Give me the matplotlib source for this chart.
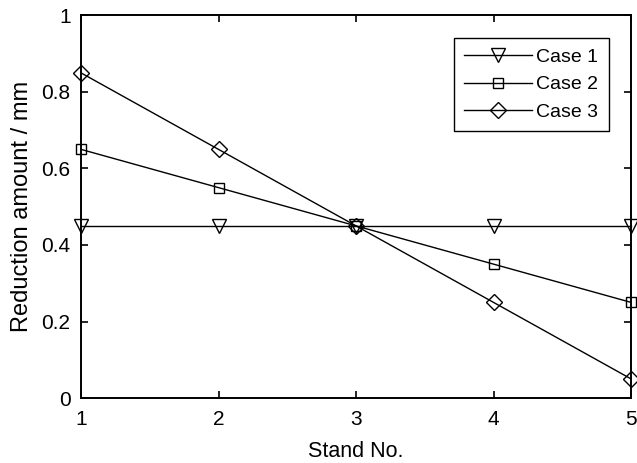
import matplotlib.pyplot as plt

plt.rcParams['font.family'] = ['Liberation Sans', 'DejaVu Sans']

# Reduction amount per stand for each case
stands = [1, 2, 3, 4, 5]
case1 = [0.45, 0.45, 0.45, 0.45, 0.45]
case2 = [0.65, 0.55, 0.45, 0.35, 0.25]
case3 = [0.85, 0.65, 0.45, 0.25, 0.05]

fig = plt.figure(figsize=(6.37, 4.63), dpi=100)
ax = fig.add_axes([81 / 637, 65 / 463, 550 / 637, 382.5 / 463])

common = dict(color='black', lw=1.0, fillstyle='none', markeredgewidth=1.0, clip_on=False)
ax.plot(stands, case1, marker='v', markersize=9.5, label='Case 1', **common)
ax.plot(stands, case2, marker='s', markersize=7.5, label='Case 2', **common)
ax.plot(stands, case3, marker='D', markersize=8, label='Case 3', **common)

ax.set_xlim(1, 5)
ax.set_ylim(0, 1)
ax.set_xticks([1, 2, 3, 4, 5])
ax.set_yticks([0, 0.2, 0.4, 0.6, 0.8, 1])
ax.set_yticklabels(['0', '0.2', '0.4', '0.6', '0.8', '1'])
ax.tick_params(direction='in', top=True, right=True, length=5, width=1.2, labelsize=15)
ax.tick_params(axis='x', pad=8.5)
ax.tick_params(axis='y', pad=7.5)
for sp in ax.spines.values():
    sp.set_linewidth(1.4)

ax.set_xlabel('Stand No.', fontsize=15.5, labelpad=9)
ax.set_ylabel('Reduction amount / mm', fontsize=17, labelpad=6)

leg = ax.legend(loc='upper right', bbox_to_anchor=(0.96, 0.942), borderaxespad=0,
                fontsize=14, fancybox=False, edgecolor='black', framealpha=1,
                handlelength=3.5, handletextpad=0.2, labelspacing=0.5, borderpad=0.55)
leg.get_frame().set_linewidth(1.0)

fig.savefig('out.png', dpi=100)
